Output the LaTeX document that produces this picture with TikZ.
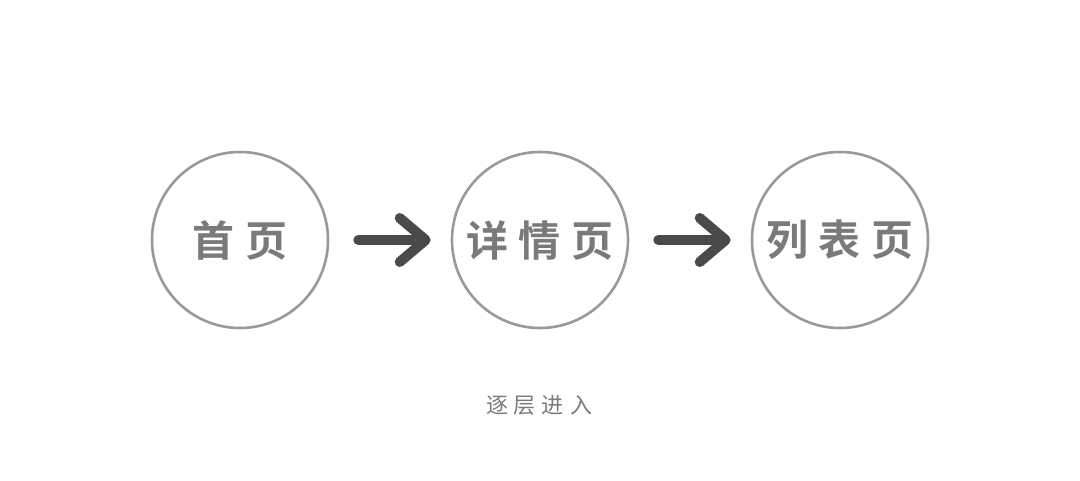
\documentclass[tikz,border=0pt]{standalone}
\usepackage{fontspec}
\usepackage{xcolor}
\usepackage{tikz}
\usetikzlibrary{arrows.meta,positioning}
\newfontfamily\cjk{Noto Sans CJK SC}
\newfontfamily\cjkbold{Noto Sans CJK SC Bold}
\definecolor{ring}{RGB}{153,153,153}
\definecolor{label}{RGB}{122,122,122}
\definecolor{dark}{RGB}{74,74,74}
\newcommand{\glyphgap}{\kern11pt}

\begin{document}
\begin{tikzpicture}[x=1pt,y=-1pt,
  page/.style={circle,draw=ring,line width=2.6pt,minimum size=176pt,inner sep=0pt,text=label,font=\cjkbold\fontsize{42}{42}\selectfont},
  step arrow/.style={draw=dark,line width=10pt,line cap=round,-{Straight Barb[length=26pt,width=44pt,line cap=round,line join=round]}}]
  \useasboundingbox (0,0) rectangle (1080,480);
  \node[page] (home) at (240,240) {首\glyphgap 页};
  \node[page] (detail) at (540,240) {详\glyphgap 情\glyphgap 页};
  \node[page] (list) at (840,240) {列\glyphgap 表\glyphgap 页};
  \draw[step arrow] ([xshift=29pt]home.east) -- ([xshift=-20pt]detail.west);
  \draw[step arrow] ([xshift=29pt]detail.east) -- ([xshift=-20pt]list.west);
  \node[text=label,font=\cjk\fontsize{22}{22}\selectfont] (caption) at (539,405) {逐\kern6pt 层\kern6pt 进\kern6pt 入};
\end{tikzpicture}
\end{document}
